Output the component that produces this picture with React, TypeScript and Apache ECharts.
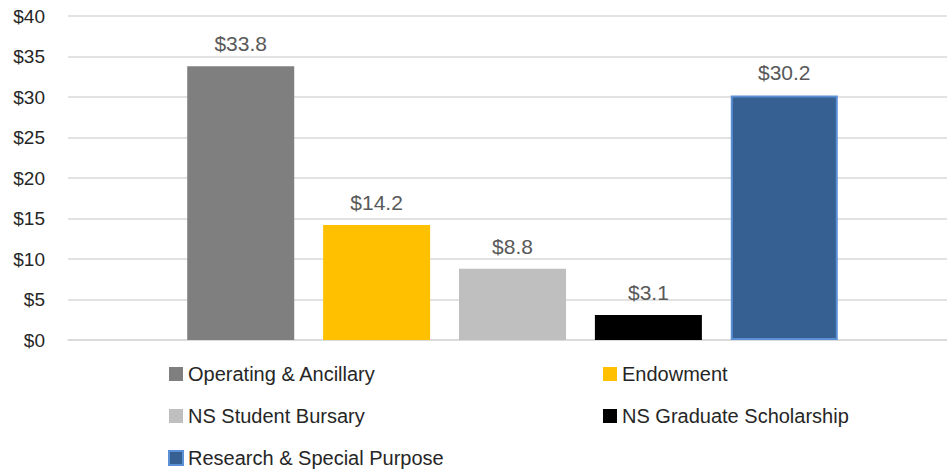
import React, { useEffect, useRef } from "react";
import * as echarts from "echarts";

const categories = ["Funds"];
const seriesNames = [
  "Operating & Ancillary",
  "Endowment",
  "NS Student Bursary",
  "NS Graduate Scholarship",
  "Research & Special Purpose",
];
const seriesValues = [33.8, 14.2, 8.8, 3.1, 30.2];
const seriesColors = ["#7f7f7f", "#ffc000", "#bfbfbf", "#000000", "#376092"];
const seriesBorders = ["#7f7f7f", "#ffc000", "#bfbfbf", "#000000", "#5b8fd6"];
const yTicks = { min: 0, max: 40, interval: 5 };

const FONT = "'Liberation Sans', Arial, sans-serif";

export default function App() {
  const ref = useRef<HTMLDivElement>(null);
  useEffect(() => {
    if (!ref.current) return;
    const chart = echarts.init(ref.current, null, { renderer: "svg" });
    const legendText = { fontFamily: FONT, fontSize: 20, color: "#262626" };
    chart.setOption({
      animation: false,
      grid: { left: 68, top: 16, bottom: 134, right: 10 },
      xAxis: {
        type: "category",
        data: categories,
        axisLine: { show: true, lineStyle: { color: "#d9d9d9", width: 1.5 } },
        axisTick: { show: false },
        axisLabel: { show: false },
      },
      yAxis: {
        type: "value",
        min: yTicks.min,
        max: yTicks.max,
        interval: yTicks.interval,
        axisLine: { show: false },
        axisTick: { show: false },
        splitLine: { lineStyle: { color: "#d9d9d9", width: 1.5 } },
        axisLabel: {
          formatter: (v: number) => "$" + v,
          fontFamily: FONT,
          fontSize: 19,
          color: "#262626",
          margin: 23,
        },
      },
      legend: [
        {
          orient: "vertical",
          left: 163,
          top: 359,
          height: 115,
          itemWidth: 14,
          itemHeight: 14,
          itemGap: 22,
          icon: "rect",
          textStyle: legendText,
          data: [seriesNames[0], seriesNames[2], seriesNames[4]],
        },
        {
          orient: "vertical",
          left: 598,
          top: 359,
          height: 115,
          itemWidth: 14,
          itemHeight: 14,
          itemGap: 22,
          icon: "rect",
          textStyle: legendText,
          data: [seriesNames[1], seriesNames[3]],
        },
      ],
      series: seriesNames.map((name, i) => ({
        name,
        type: "bar",
        data: [seriesValues[i]],
        barWidth: 107,
        barGap: "27%",
        itemStyle: {
          color: seriesColors[i],
          borderColor: seriesBorders[i],
          borderWidth: i === 4 ? 2 : 0,
        },
        label: {
          show: true,
          position: "top",
          distance: 12,
          formatter: (p: any) => "$" + Number(p.value).toFixed(1),
          fontFamily: FONT,
          fontSize: 21,
          color: "#595959",
        },
      })),
    });
    return () => chart.dispose();
  }, []);
  return (
    <div
      style={{
        position: "absolute",
        left: 0,
        top: 0,
        width: 947,
        height: 474,
        overflow: "hidden",
      }}
    >
      <div ref={ref} style={{ width: 967, height: 474 }} />
    </div>
  );
}
